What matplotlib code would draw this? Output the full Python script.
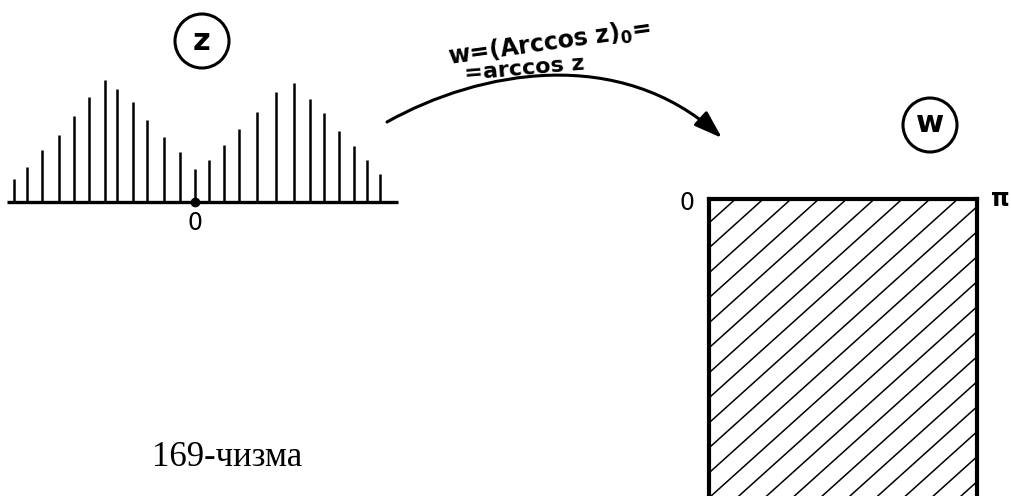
import numpy as np
import matplotlib
matplotlib.use('Agg')
import matplotlib.pyplot as plt
import matplotlib.patches as patches
from matplotlib.path import Path

# z-plane: stick positions (offset from origin) and heights
stick_x = [-181, -168, -153, -136, -121, -106, -90, -78, -62, -48, -31, -15, 0,
           14, 29, 44, 62, 81, 99, 115, 129, 144, 159, 172, 185]
stick_h = [23, 35, 52, 67, 86, 105, 122, 113, 100, 82, 65, 50, 33,
           42, 57, 73, 90, 110, 119, 103, 89, 71, 56, 42, 28]
z_axis_range = [-188, 203]

# w-plane: half-strip 0 <= Re w <= pi
w_left = 0.0
w_right = np.pi
w_corner_labels = ['0', 'π']

map_text_1 = r'w=(Arccos z)$_\mathbf{0}$='
map_text_2 = '=arccos z'
caption = '169-чизма'

W, H = 1011, 496
fig = plt.figure(figsize=(W / 100, H / 100), dpi=100)


def box(x0, y0, x1, y1):
    # pixel box (top-left origin) -> figure fraction
    return [x0 / W, (H - y1) / H, (x1 - x0) / W, (y1 - y0) / H]


# overlay for annotations, pixel coordinates
ov = fig.add_axes([0, 0, 1, 1])
ov.set_xlim(0, W)
ov.set_ylim(H, 0)
ov.axis('off')

# ---- z plane ----
axz = fig.add_axes(box(0, 60, 410, 240))
axz.set_xlim(-195.3, 214.7)
axz.set_ylim(-38, 142)
axz.axis('off')
axz.vlines(stick_x, 0, stick_h, colors='black', lw=1.8)
axz.plot(z_axis_range, [0, 0], color='black', lw=2.4, solid_capstyle='butt')
axz.plot([0], [0], 'o', color='black', ms=6)
axz.text(0, -21, '0', ha='center', va='center', fontsize=17)

# ---- w plane ----
scale = 268 / np.pi
axw = fig.add_axes(box(660, 180, 1011, 496))
axw.set_xlim((660 - 709) / scale, (1011 - 709) / scale)
axw.set_ylim(-(496 - 199) / scale, (199 - 180) / scale)
axw.axis('off')

clip = patches.Rectangle((w_left, -10), w_right - w_left, 10,
                         transform=axw.transData, visible=False)
axw.add_patch(clip)
slope = 0.9
gap = 25 / scale
xs = np.array([w_left - 1, w_right + 1])
for k in range(-20, 30):
    c = -0.09 - slope * w_right - k * gap
    ln, = axw.plot(xs, slope * xs + c, color='black', lw=1.1)
    ln.set_clip_path(clip)

axw.plot([w_left, w_left], [0, -5], color='black', lw=3, solid_capstyle='projecting')
axw.plot([w_right, w_right], [0, -5], color='black', lw=3, solid_capstyle='projecting')
axw.plot([w_left, w_right], [0, 0], color='black', lw=3, solid_capstyle='projecting')
axw.text(w_left - 0.26, -0.05, w_corner_labels[0], ha='center', va='center', fontsize=17)
axw.text(w_right + 0.27, 0.0, w_corner_labels[1], ha='center', va='center', fontsize=17,
         fontweight='bold')

# ---- circled plane labels ----
ov.add_patch(patches.Circle((202, 41), 27, fill=False, lw=2.2, ec='black'))
ov.text(202, 42, 'z', ha='center', va='center', fontsize=22, fontweight='bold')
ov.add_patch(patches.Circle((930, 125), 27, fill=False, lw=2.2, ec='black'))
ov.text(930, 124, 'w', ha='center', va='center', fontsize=22, fontweight='bold')

# ---- mapping arrow ----
arc = Path([(387, 122), (480, 70), (620, 45), (722, 138)],
           [Path.MOVETO, Path.CURVE4, Path.CURVE4, Path.CURVE4])
arrow = patches.FancyArrowPatch(path=arc, arrowstyle='-|>,head_length=0.95,head_width=0.32',
                                mutation_scale=18, lw=2.2, color='black',
                                transform=ov.transData)
ov.add_patch(arrow)
ov.text(550, 43, map_text_1, ha='center', va='center', fontsize=17, rotation=8,
        fontweight='bold')
ov.text(524, 69, map_text_2, ha='center', va='center', fontsize=16, rotation=5,
        fontweight='bold')

ov.text(227, 457, caption, ha='center', va='center', fontsize=25,
        family='Liberation Serif')

fig.savefig('out.png', dpi=100)
plt.close(fig)
